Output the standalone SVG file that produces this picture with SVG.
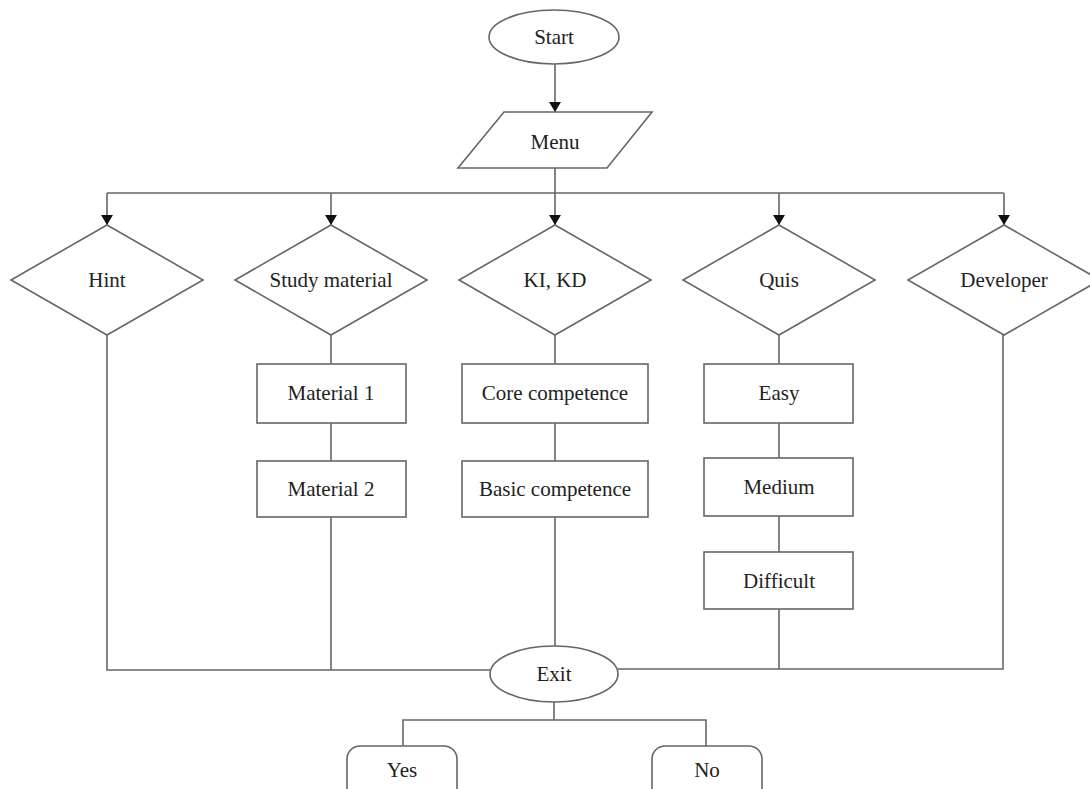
<svg xmlns="http://www.w3.org/2000/svg" width="1090" height="789" viewBox="0 0 1090 789">
<defs>
<marker id="arr" viewBox="0 0 10 12" refX="10" refY="6" markerWidth="10" markerHeight="12" markerUnits="userSpaceOnUse" orient="auto">
<path d="M0,0 L10,6 L0,12 Z" fill="#111"/>
</marker>
<style>
.s{fill:#fff;stroke:#666;stroke-width:1.6}
.c{fill:none;stroke:#666;stroke-width:1.6}
.t{font-family:"Liberation Serif","Times New Roman",serif;font-size:21px;fill:#222;text-anchor:middle}
</style>
</defs>
<rect width="1090" height="789" fill="#fff"/>
<g id="connectors">
<path class="c" d="M555,64 V112" marker-end="url(#arr)"/>
<path class="c" d="M555,168 V193"/>
<path class="c" d="M107,193 H1004"/>
<path class="c" d="M107,193 V225" marker-end="url(#arr)"/>
<path class="c" d="M331,193 V225" marker-end="url(#arr)"/>
<path class="c" d="M555,193 V225" marker-end="url(#arr)"/>
<path class="c" d="M779,193 V225" marker-end="url(#arr)"/>
<path class="c" d="M1004,193 V225" marker-end="url(#arr)"/>
<path class="c" d="M107,335 V670 H491"/>
<path class="c" d="M331,335 V364 M331,423 V461 M331,517 V670"/>
<path class="c" d="M555,335 V364 M555,423 V461 M555,517 V646"/>
<path class="c" d="M779,335 V364 M779,423 V458 M779,516 V552 M779,609 V669"/>
<path class="c" d="M1003,335 V669 H618"/>
<path class="c" d="M554,702 V720 M403,746 V720 H706 V746"/>
</g>
<g id="start"><ellipse class="s" cx="554" cy="37" rx="65" ry="27"/><text class="t" x="554" y="44">Start</text></g>
<g id="menu"><polygon class="s" points="504,112 652,112 607,168 458,168"/><text class="t" x="555" y="149">Menu</text></g>
<g id="hint"><polygon class="s" points="107,225 203,280 107,335 11,280"/><text class="t" x="107" y="287">Hint</text></g>
<g id="study"><polygon class="s" points="331,225 427,280 331,335 235,280"/><text class="t" x="331" y="287">Study material</text></g>
<g id="kikd"><polygon class="s" points="555,225 651,280 555,335 459,280"/><text class="t" x="555" y="287">KI, KD</text></g>
<g id="quis"><polygon class="s" points="779,225 875,280 779,335 683,280"/><text class="t" x="779" y="287">Quis</text></g>
<g id="developer"><polygon class="s" points="1004,225 1100,280 1004,335 908,280"/><text class="t" x="1004" y="287">Developer</text></g>
<g id="material1"><rect class="s" x="257" y="364" width="149" height="59"/><text class="t" x="331" y="400">Material 1</text></g>
<g id="material2"><rect class="s" x="257" y="461" width="149" height="56"/><text class="t" x="331" y="496">Material 2</text></g>
<g id="core"><rect class="s" x="462" y="364" width="186" height="59"/><text class="t" x="555" y="400">Core competence</text></g>
<g id="basic"><rect class="s" x="462" y="461" width="186" height="56"/><text class="t" x="555" y="496">Basic competence</text></g>
<g id="easy"><rect class="s" x="704" y="364" width="149" height="59"/><text class="t" x="779" y="400">Easy</text></g>
<g id="medium"><rect class="s" x="704" y="458" width="149" height="58"/><text class="t" x="779" y="494">Medium</text></g>
<g id="difficult"><rect class="s" x="704" y="552" width="149" height="57"/><text class="t" x="779" y="588">Difficult</text></g>
<g id="exit"><ellipse class="s" cx="554" cy="674" rx="64" ry="28"/><text class="t" x="554" y="681">Exit</text></g>
<g id="yes"><rect class="s" x="347" y="746" width="110" height="62" rx="13"/><text class="t" x="402" y="777">Yes</text></g>
<g id="no"><rect class="s" x="652" y="746" width="110" height="62" rx="13"/><text class="t" x="707" y="777">No</text></g>
</svg>
